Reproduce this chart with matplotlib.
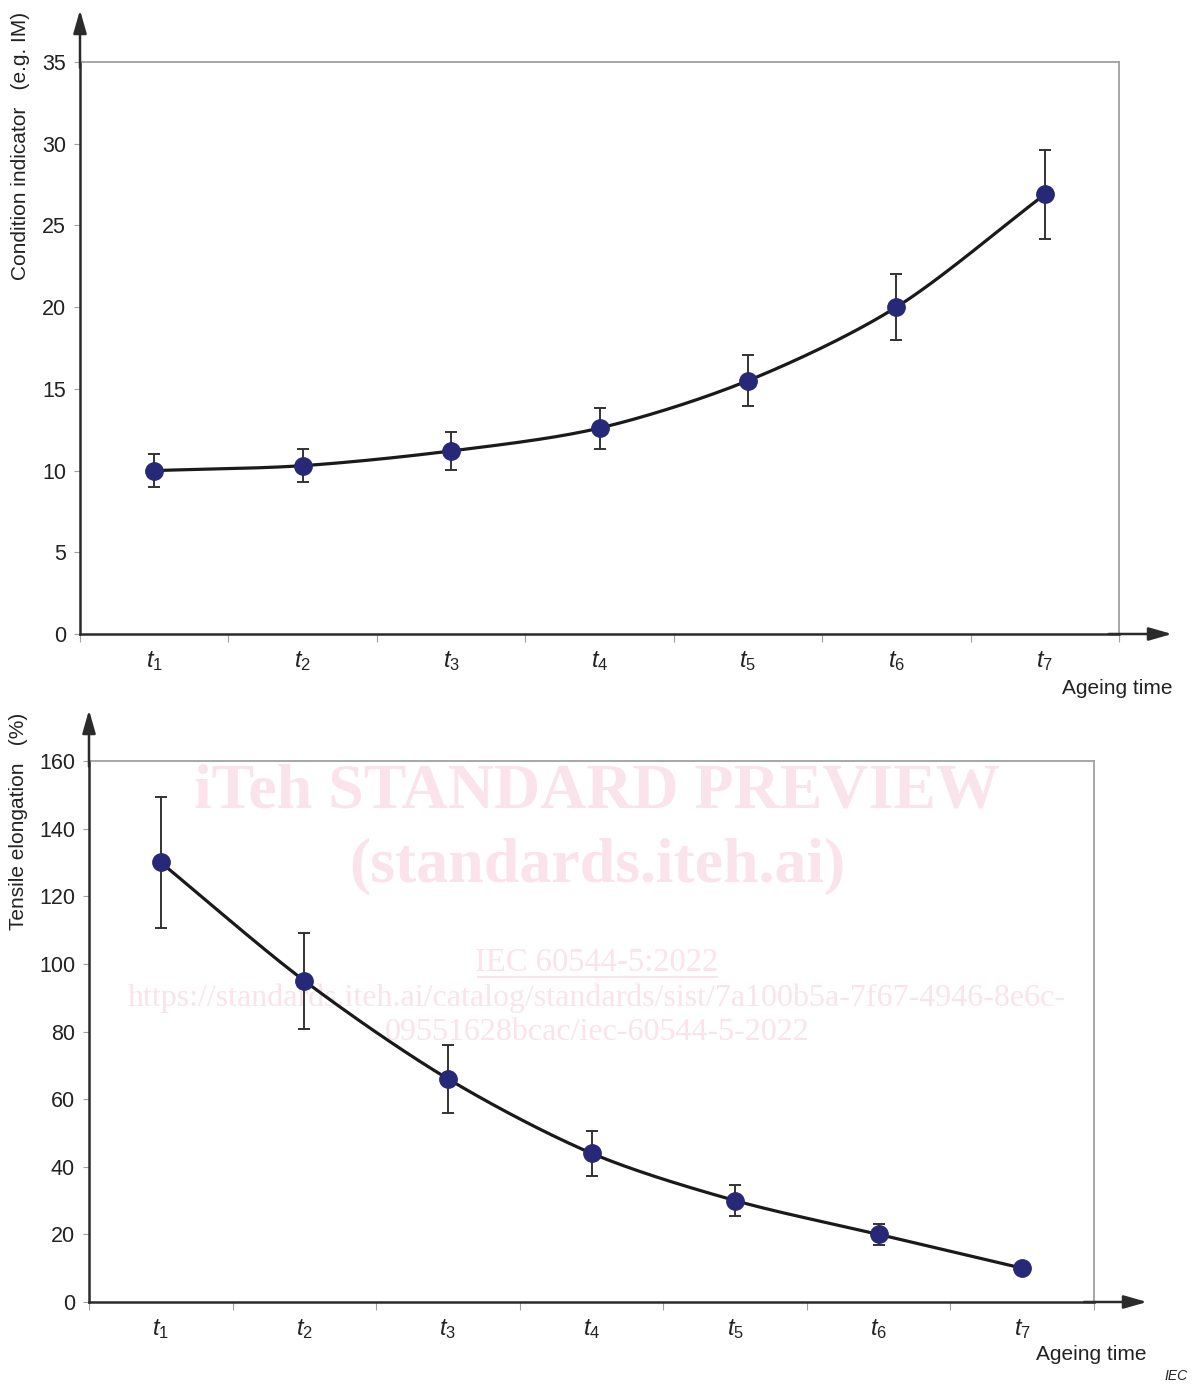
import numpy as np
import matplotlib
matplotlib.use("Agg")
import matplotlib.pyplot as plt
from matplotlib.lines import Line2D

plt.rcParams['font.family'] = ['Liberation Sans', 'DejaVu Sans']
plt.rcParams['mathtext.fontset'] = 'custom'
plt.rcParams['mathtext.rm'] = 'Liberation Sans'
plt.rcParams['mathtext.it'] = 'Liberation Sans:italic'

# ---- data ----
categories = ["$t_{\\mathrm{1}}$", "$t_{\\mathrm{2}}$", "$t_{\\mathrm{3}}$", "$t_{\\mathrm{4}}$",
              "$t_{\\mathrm{5}}$", "$t_{\\mathrm{6}}$", "$t_{\\mathrm{7}}$"]
condition_values = [10.0, 10.3, 11.2, 12.6, 15.5, 20.0, 26.9]
condition_errors = [1.0, 1.0, 1.15, 1.25, 1.55, 2.0, 2.7]
elongation_values = [130.0, 95.0, 66.0, 44.0, 30.0, 20.0, 10.0]
elongation_errors = [19.5, 14.2, 10.0, 6.7, 4.5, 3.0, 0.0]
top_yticks = [0, 5, 10, 15, 20, 25, 30, 35]
bottom_yticks = [0, 20, 40, 60, 80, 100, 120, 140, 160]

W, H = 1199, 1385
fig = plt.figure(figsize=(W / 100, H / 100), dpi=100)

MARKER = '#262878'
DARK = '#2b2b2b'
GRAY = '#a0a0a0'
TXT = '#222222'
WM = '#fae3ea'


def smooth(x, y, n=30):
    x = np.asarray(x, float)
    y = np.asarray(y, float)
    P = np.column_stack([x, y])
    P = np.vstack([2 * P[0] - P[1], P, 2 * P[-1] - P[-2]])
    out = []
    t = np.linspace(0, 1, n)
    for i in range(1, len(P) - 2):
        p0, p1, p2, p3 = P[i - 1], P[i], P[i + 1], P[i + 2]
        m1 = (p2 - p0) / 2 * 0.9
        m2 = (p3 - p1) / 2 * 0.9
        h00 = 2 * t**3 - 3 * t**2 + 1
        h10 = t**3 - 2 * t**2 + t
        h01 = -2 * t**3 + 3 * t**2
        h11 = t**3 - t**2
        seg = (np.outer(h00, p1) + np.outer(h10, m1) + np.outer(h01, p2) + np.outer(h11, m2))
        out.append(seg if i == 1 else seg[1:])
    out = np.vstack(out)
    return out[:, 0], out[:, 1]


def px_ax(l, r, t, b):
    return fig.add_axes([l / W, 1 - b / H, (r - l) / W, (b - t) / H])


def setup(ax, values, errors, yticks, ytop, arrow_y, arrow_x):
    n = len(values)
    x = np.arange(1, n + 1)
    ax.set_facecolor('none')
    ax.set_xlim(0.5, n + 0.5)
    ax.set_ylim(0, ytop)
    sx, sy = smooth(x, values)
    ax.plot(sx, sy, color='#1a1a1a', lw=2.3, zorder=3, solid_capstyle='round')
    errs = np.asarray(errors)
    mask = errs > 0
    ax.errorbar(x[mask], np.asarray(values)[mask], yerr=errs[mask], fmt='none',
                ecolor='#333333', elinewidth=1.4, capsize=4.5, capthick=1.4, zorder=4)
    ax.plot(x, values, 'o', color=MARKER, ms=12.5, zorder=5, mec=MARKER)
    for s in ['top', 'right']:
        ax.spines[s].set_color(GRAY)
        ax.spines[s].set_linewidth(1.3)
    for s in ['left', 'bottom']:
        ax.spines[s].set_color(DARK)
        ax.spines[s].set_linewidth(1.8)
    ax.set_yticks(yticks)
    ax.set_yticklabels([str(v) for v in yticks])
    ax.tick_params(axis='y', direction='out', length=4, width=0.8, color=GRAY,
                   labelsize=15.5, labelcolor=TXT, pad=6)
    ax.set_xticks(np.arange(0.5, n + 1.0, 1.0))
    ax.set_xticklabels([])
    ax.tick_params(axis='x', which='major', direction='out', length=6, width=0.8, color=GRAY)
    ax.set_xticks(x, minor=True)
    ax.set_xticklabels(categories, minor=True)
    ax.tick_params(axis='x', which='minor', length=0, labelsize=17, labelcolor=TXT, pad=11)
    ax.annotate('', xy=(0, arrow_y), xytext=(0, 0.99), xycoords='axes fraction',
                textcoords='axes fraction', annotation_clip=False,
                arrowprops=dict(arrowstyle='-|>,head_length=0.7,head_width=0.2',
                                mutation_scale=20, color=DARK, lw=1.8,
                                shrinkA=0, shrinkB=0))
    ax.annotate('', xy=(arrow_x, 0), xytext=(0.99, 0), xycoords='axes fraction',
                textcoords='axes fraction', annotation_clip=False,
                arrowprops=dict(arrowstyle='-|>,head_length=0.7,head_width=0.2',
                                mutation_scale=20, color=DARK, lw=1.8,
                                shrinkA=0, shrinkB=0))


ax1 = px_ax(80, 1119, 62, 634)
setup(ax1, condition_values, condition_errors, top_yticks, 35,
      1 + 52 / 572, 1 + 53 / 1039)
ax2 = px_ax(89, 1094, 761, 1302)
setup(ax2, elongation_values, elongation_errors, bottom_yticks, 160,
      1 + 51 / 541, 1 + 53 / 1005)

# axis titles
fig.text(21 / W, 1 - 146 / H, "Condition indicator   (e.g. IM)", rotation=90,
         ha='center', va='center', fontsize=15, color=TXT)
fig.text(19 / W, 1 - 821 / H, "Tensile elongation   (%)", rotation=90,
         ha='center', va='center', fontsize=15, color=TXT)
fig.text(1172 / W, 1 - 689 / H, "Ageing time", ha='right', va='center',
         fontsize=15, color=TXT)
fig.text(1147 / W, 1 - 1354 / H, "Ageing time", ha='right', va='center',
         fontsize=15, color=TXT)
fig.text(1188 / W, 1 - 1376 / H, "IEC", ha='right', va='center',
         fontsize=10, style='italic', color=TXT)

# watermark
serif = ['Liberation Serif', 'DejaVu Serif']
fig.text(597 / W, 1 - 793 / H, "iTeh STANDARD PREVIEW", ha='center', va='center',
         fontsize=46, fontweight='bold', family=serif, color=WM, zorder=-1)
fig.text(597 / W, 1 - 866 / H, "(standards.iteh.ai)", ha='center', va='center',
         fontsize=46, fontweight='bold', family=serif, color=WM, zorder=-1)
fig.text(597 / W, 1 - 963 / H, "IEC 60544-5:2022", ha='center', va='center',
         fontsize=23.5, family=serif, color=WM, zorder=-1)
fig.add_artist(Line2D([478 / W, 717 / W], [1 - 977 / H, 1 - 977 / H], color=WM,
                      lw=1.5, zorder=-1))
fig.text(597 / W, 1 - 998 / H,
         "https://standards.iteh.ai/catalog/standards/sist/7a100b5a-7f67-4946-8e6c-",
         ha='center', va='center', fontsize=23, family=serif, color=WM, zorder=-1)
fig.text(597 / W, 1 - 1033 / H, "09551628bcac/iec-60544-5-2022", ha='center',
         va='center', fontsize=23, family=serif, color=WM, zorder=-1)

fig.savefig("out.png", dpi=100, facecolor='white')
